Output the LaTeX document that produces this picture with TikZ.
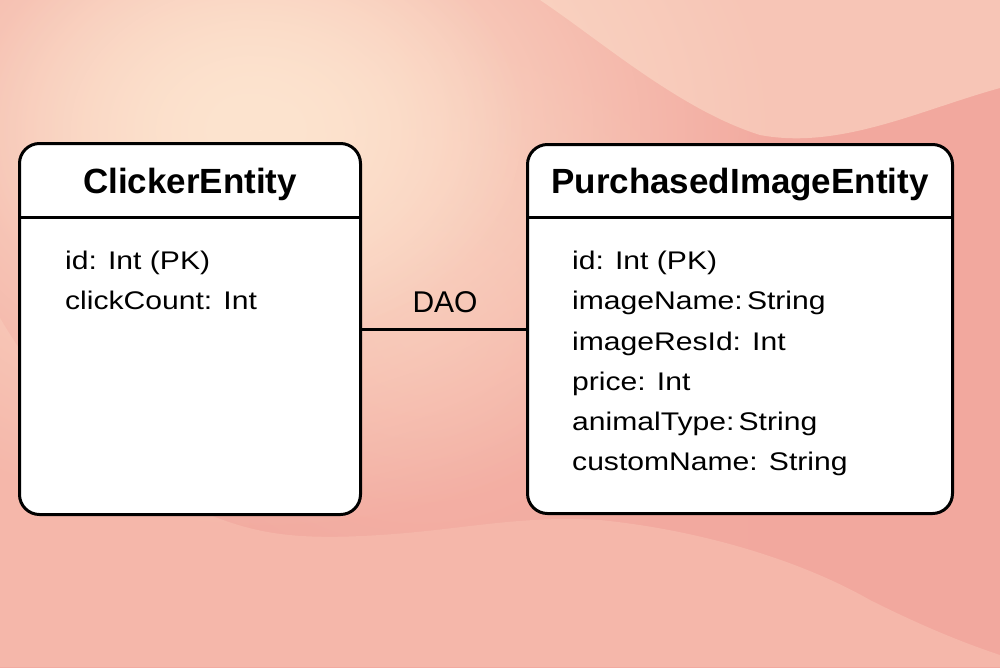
\documentclass[tikz,border=0pt]{standalone}
\usepackage{fontspec}
\setmainfont{Liberation Sans}
\newfontfamily\attrfont[FakeStretch=1.18]{Liberation Sans}
\usetikzlibrary{fadings}
\definecolor{bgL}{HTML}{F2AAA0}
\definecolor{bgR}{HTML}{F2A89E}
\definecolor{peach}{HTML}{FDE4CF}
\definecolor{blobTR}{HTML}{F7C5B6}
\definecolor{blobB}{HTML}{F5B7AA}
\tikzfading[name=softcirc, inner color=transparent!0, outer color=transparent!100]
\tikzset{
  entity/.style={draw=black, line width=3pt, fill=white, rounded corners=20pt, anchor=north west, inner sep=0pt},
  sepline/.style={line width=3pt},
  conn/.style={line width=3pt},
  title/.style={font=\fontsize{35}{42}\selectfont\bfseries, anchor=base, inner sep=0pt},
  attr/.style={font=\attrfont\fontsize{25.5}{30}\selectfont, anchor=base west, inner sep=0pt},
  lbl/.style={font=\fontsize{30}{36}\selectfont, anchor=base, inner sep=0pt}
}
\begin{document}
\begin{tikzpicture}[x=1pt,y=-1pt]
\useasboundingbox (0,0) rectangle (1000,667);
% background
\fill[left color=bgL, right color=bgR] (0,0) rectangle (1000,667);
\fill[blobB] (0,318) .. controls (60,420) and (150,500) .. (210,515)
  .. controls (260,535) and (300,540) .. (380,535)
  .. controls (460,530) and (520,515) .. (600,520)
  .. controls (700,530) and (800,560) .. (870,600)
  .. controls (930,630) and (970,645) .. (1000,655)
  -- (1000,667) -- (0,667) -- cycle;
\fill[blobTR] (540,0) .. controls (600,40) and (680,110) .. (760,135)
  .. controls (840,150) and (920,110) .. (1000,88) -- (1000,0) -- cycle;
\fill[blobB, path fading=softcirc] (420,330) ellipse (330 and 300);
\fill[peach, path fading=softcirc] (260,130) ellipse (520 and 400);
\fill[peach, path fading=softcirc] (250,130) ellipse (280 and 220);
% entities
\node[entity, minimum width=341pt, minimum height=371pt] (ce) at (18,142) {};
\node[entity, minimum width=425pt, minimum height=369pt] (pe) at (526,143) {};
\draw[sepline] (ce.west |- 0,217) -- (ce.east |- 0,217);
\draw[sepline] (pe.west |- 0,217) -- (pe.east |- 0,217);
\node[title] (cet) at (ce.north |- 0,193) {ClickerEntity};
\node[title] (pet) at (pe.north |- 0,193) {PurchasedImageEntity};
\node[attr] (ca1) at (65,269) {id: Int (PK)};
\node[attr] (ca2) at (65,309.5) {clickCount: Int};
\node[attr] (pa1) at (572,269) {id: Int (PK)};
\node[attr] (pa2) at (572,309.5) {imageName:\,String};
\node[attr] (pa3) at (572,350) {imageResId: Int};
\node[attr] (pa4) at (572,390) {price: Int};
\node[attr] (pa5) at (572,430) {animalType:\,String};
\node[attr] (pa6) at (572,470) {customName: String};
% connector
\draw[conn] (ce.east) -- (pe.west);
\node[lbl] (dao) at (445,312) {DAO};
\end{tikzpicture}
\end{document}
